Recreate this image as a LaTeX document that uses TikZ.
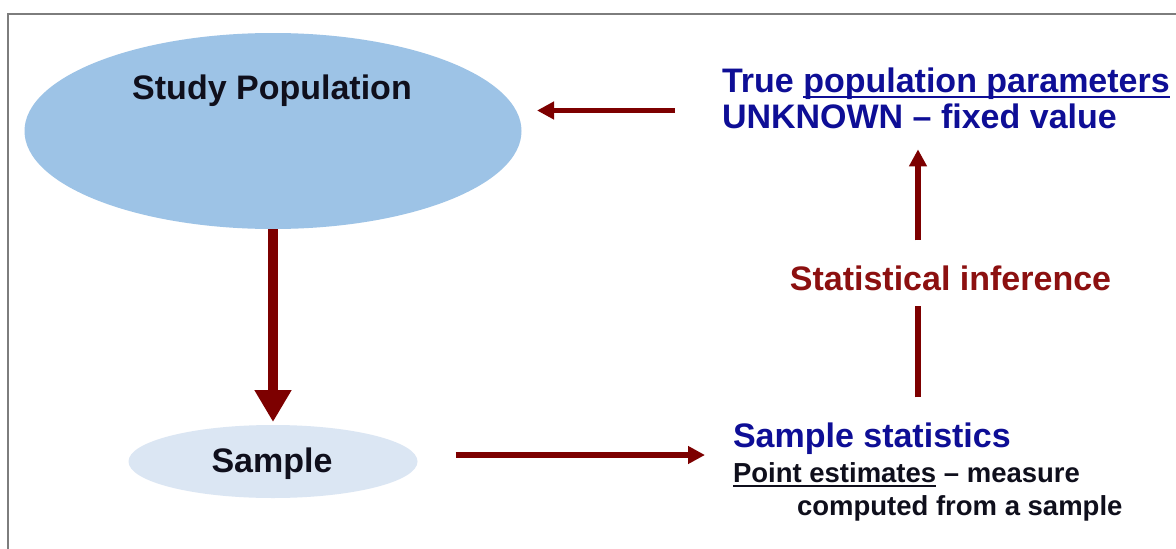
\documentclass[tikz,border=0pt]{standalone}
\usepackage{fontspec}
\setmainfont{Liberation Sans}
\usetikzlibrary{arrows.meta,shapes.geometric}

\definecolor{popfill}{RGB}{157,195,230}
\definecolor{sampfill}{RGB}{219,230,243}
\definecolor{arrowred}{RGB}{125,0,0}
\definecolor{inferred}{RGB}{140,16,16}
\definecolor{navy}{RGB}{14,14,150}
\definecolor{ink}{RGB}{15,15,28}
\definecolor{framegray}{RGB}{125,125,125}

% text with a heavy underline: #1 = drop below baseline, #2 = bar thickness
\newcommand\ulbar[3]{\setbox0\hbox{#3}\rlap{\rule[-#1]{\wd0}{#2}}\box0\relax}

\begin{document}
\begin{tikzpicture}[x=1pt,y=-1pt,
  every node/.style={inner sep=0pt,outer sep=0pt},
  bigtext/.style={font=\fontsize{34}{36}\selectfont\bfseries},
  smalltext/.style={font=\fontsize{27.5}{33}\selectfont\bfseries},
  blob/.style={ellipse,draw=none,inner sep=0pt},
  heavyarrow/.style={draw=arrowred,line width=10pt,-{Triangle[width=35pt,length=32pt]}},
  thinarrow/.style={draw=arrowred,line width=5.5pt,-{Triangle[width=17pt,length=17pt]}},
  plainline/.style={draw=arrowred,line width=5.5pt}]

\useasboundingbox (0,0) rectangle (1176,549);
\fill[white] (0,0) rectangle (1176,549);

% slide frame
\draw[framegray,line width=2.4pt] (8,549) -- (8,14) -- (1176,14);

% population and sample
\node[blob,fill=popfill,minimum width=497pt,minimum height=196pt] (pop) at (273,131) {};
\node[bigtext,text=ink,anchor=base] (poptext) at (272,99) {Study Population};
\node[blob,fill=sampfill,minimum width=289pt,minimum height=73pt] (samp) at (273,461.5) {};
\node[bigtext,text=ink,anchor=base] (samptext) at (272,472) {Sample};

% parameters
\node[bigtext,text=navy,anchor=base west] (truep) at (722,92)
  {True \ulbar{6pt}{2.5pt}{population parameters}};
\node[bigtext,text=navy,anchor=base west] (unk) at (722,128) {UNKNOWN -- fixed value};

% inference label
\node[bigtext,text=inferred,anchor=base] (infer) at (950.5,290) {Statistical inference};

% statistics
\node[bigtext,text=navy,anchor=base west] (stats) at (733,447) {Sample statistics};
\node[smalltext,text=ink,anchor=base west] (est) at (733,482)
  {\ulbar{5pt}{2pt}{Point estimates} -- measure};
\node[smalltext,text=ink,anchor=base west] (comp) at (797,515) {computed from a sample};

% connectors
\coordinate (col) at (918,0);
\coordinate (toprow) at (0,110.5);
\coordinate (botrow) at (0,455);

\draw[heavyarrow,shorten >=3pt] (pop.south) -- (samp.north);
\draw[thinarrow,shorten <=47pt,shorten >=15.5pt] (truep.west |- toprow) -- (pop.east |- toprow);
\draw[thinarrow,shorten <=38pt,shorten >=28pt] (samp.east |- botrow) -- (stats.west |- botrow);
\draw[plainline,shorten <=25pt,shorten >=16pt] (stats.north -| col) -- (infer.south -| col);
\draw[thinarrow,shorten <=25pt,shorten >=21pt] (infer.north -| col) -- (unk.south -| col);
\end{tikzpicture}
\end{document}
